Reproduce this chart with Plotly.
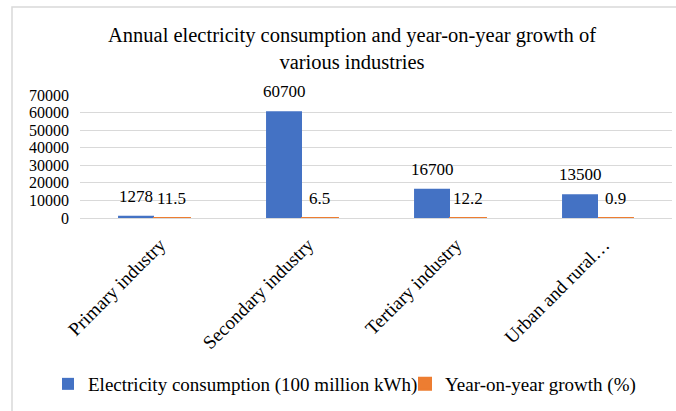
import plotly.graph_objects as go

categories = ["Primary industry", "Secondary industry", "Tertiary industry", "Urban and rural…"]
consumption = [1278, 60700, 16700, 13500]
growth = [11.5, 6.5, 12.2, 0.9]
consumption_labels = ["1278", "60700", "16700", "13500"]
growth_labels = ["11.5", "6.5", "12.2", "0.9"]
y_ticks = [0, 10000, 20000, 30000, 40000, 50000, 60000, 70000]

BLUE = "#4472C4"
ORANGE = "#ED7D31"
FONT = "Liberation Serif"
W, H = 676, 411
ML, MR, MT, MB = 80, 4, 95, 193
PW = W - ML - MR
PH = H - MT - MB

fig = go.Figure()
fig.add_trace(go.Bar(
    x=categories, y=consumption, name="Electricity consumption (100 million kWh)",
    marker=dict(color=BLUE, line=dict(width=0)), legend="legend",
))
fig.add_trace(go.Bar(
    x=categories, y=growth, name="Year-on-year growth (%)",
    marker=dict(color=ORANGE, line=dict(color=ORANGE, width=2)), legend="legend2",
))

annotations = []
bar_off = PW / len(categories) * (1 - 0.514) / 4
for cat, v, t in zip(categories, consumption, consumption_labels):
    annotations.append(dict(x=cat, y=v, text=t, showarrow=False, xref="x", yref="y",
                            xshift=-bar_off, yshift=8, yanchor="bottom",
                            font=dict(family=FONT, size=17, color="#000000")))
for cat, v, t in zip(categories, growth, growth_labels):
    annotations.append(dict(x=cat, y=v, text=t, showarrow=False, xref="x", yref="y",
                            xshift=bar_off, yshift=8, yanchor="bottom",
                            font=dict(family=FONT, size=17, color="#000000")))

legend_common = dict(orientation="h", xref="container", yref="container",
                     xanchor="left", y=(H - 384) / H, yanchor="middle",
                     font=dict(family=FONT, size=19, color="#000000"),
                     itemwidth=30, bgcolor="rgba(0,0,0,0)")

fig.update_layout(
    width=W, height=H,
    margin=dict(l=ML, r=MR, t=MT, b=MB, autoexpand=False),
    paper_bgcolor="white", plot_bgcolor="white",
    font=dict(family=FONT, color="#000000"),
    barmode="group", bargap=0.514, bargroupgap=0,
    title=dict(text="Annual electricity consumption and year-on-year growth of<br>various industries",
               x=352 / W, xanchor="center", xref="container",
               y=1 - 42 / H, yanchor="top", yref="container",
               font=dict(family=FONT, size=20.5, color="#000000")),
    showlegend=True,
    legend=dict(legend_common, x=48 / W),
    legend2=dict(legend_common, x=405 / W),
    annotations=annotations,
    shapes=[dict(type="rect", xref="paper", yref="paper",
                 x0=(12 - ML) / PW, x1=(W + 20 - ML) / PW,
                 y0=(MT + PH - H - 20) / PH, y1=(MT + PH - 7) / PH,
                 line=dict(color="#d9d9d9", width=1.5), fillcolor="rgba(0,0,0,0)", layer="below")],
)
fig.update_yaxes(range=[0, 70000], tickvals=y_ticks, ticktext=[str(v) for v in y_ticks],
                 showgrid=True, gridcolor="#d9d9d9", gridwidth=1,
                 zeroline=True, zerolinecolor="#d9d9d9", zerolinewidth=1,
                 showline=False, ticks="", ticklabelstandoff=10, automargin=False,
                 tickfont=dict(family=FONT, size=16, color="#000000"))
fig.update_xaxes(tickangle=-45, showgrid=False, showline=False, ticks="",
                 ticklabelshift=6, ticklabelstandoff=11, automargin=False,
                 tickfont=dict(family=FONT, size=19, color="#000000"))

fig.write_html("out.html")
